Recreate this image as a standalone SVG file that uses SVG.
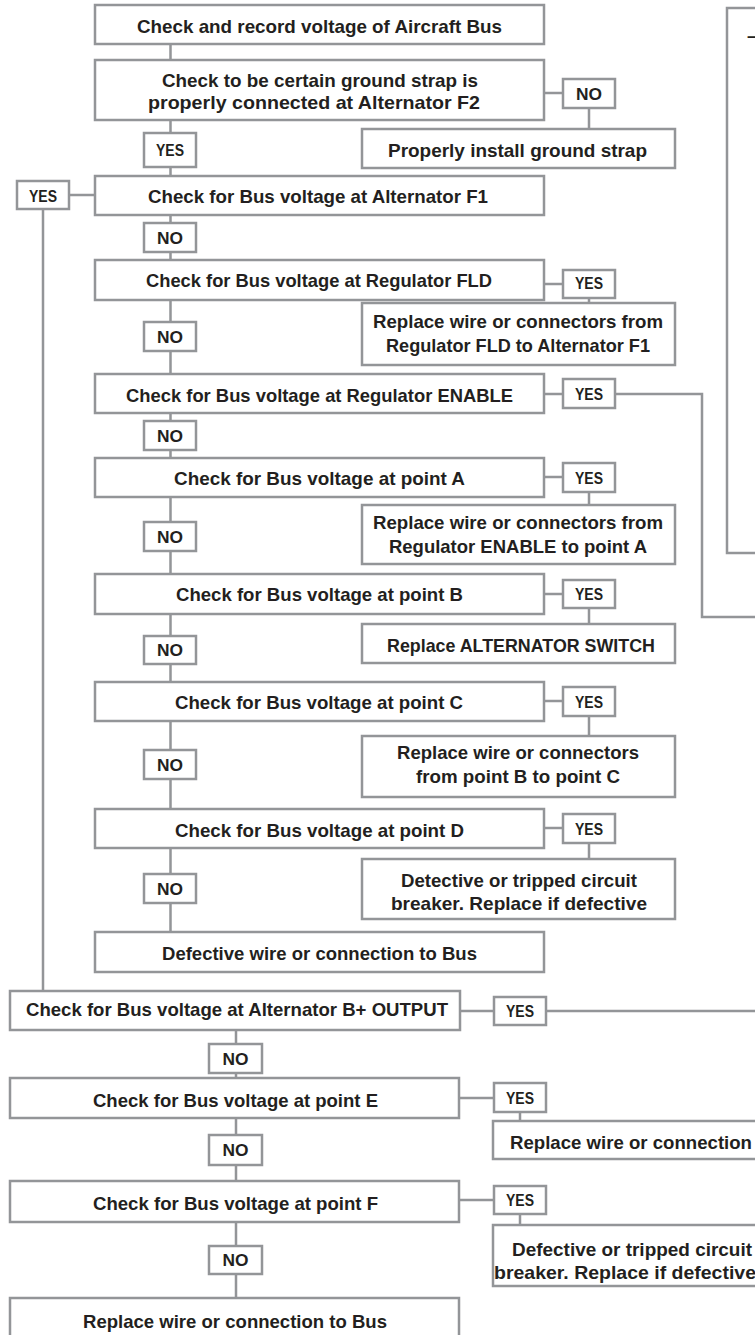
<svg xmlns="http://www.w3.org/2000/svg" width="755" height="1335" viewBox="0 0 755 1335">
<style>
.b{fill:#fff;stroke:#939598;stroke-width:2.5}
.c{fill:none;stroke:#939598;stroke-width:2.5}
text{font-family:"Liberation Sans",Arial,sans-serif;font-weight:bold;fill:#231f20}
.t{font-size:18.5px;text-anchor:middle}
.s{font-size:18.5px}
.l{font-size:17px;text-anchor:middle}
</style>
<rect width="755" height="1335" fill="#fff"/>
<g id="connectors">
<path class="c" d="M170.5 44V60M170.5 120V176M544 93H563M589 108V129M69 195H95M43 209V991M170.5 215V260M544 284H563M589 298V303M170.5 300V374M544 394H563M615 394H702V617H760M170.5 413V458M544 477H563M589 492V505M170.5 497V574M544 594H563M589 608V624M170.5 614V682M544 701H563M589 716V736M170.5 721V809M544 828H563M589 843V859M170.5 848V932"/>
<path class="c" d="M460 1011H494M546 1011H760M236 1030V1078M460 1098H494M520 1112V1121M236 1118V1181M460 1200H494M520 1214V1225M236 1222V1298"/>
</g>
<g id="panel"><rect class="b" x="727" y="8" width="60" height="545"/><text class="s" x="747" y="42">–</text></g>
<g id="n1"><rect class="b" x="95" y="5" width="449" height="39"/><text class="t" x="319.5" y="33" textLength="365" lengthAdjust="spacingAndGlyphs">Check and record voltage of Aircraft Bus</text></g>
<g id="n2"><rect class="b" x="95" y="60" width="449" height="60"/><text class="t" x="320" y="87" textLength="316" lengthAdjust="spacingAndGlyphs">Check to be certain ground strap is</text><text class="t" x="314" y="109" textLength="332" lengthAdjust="spacingAndGlyphs">properly connected at Alternator F2</text></g>
<g id="l2no"><rect class="b" x="563" y="79" width="52" height="29"/><text class="l" x="589" y="99.5" textLength="26" lengthAdjust="spacingAndGlyphs">NO</text></g>
<g id="n2a"><rect class="b" x="362" y="129" width="313" height="39"/><text class="t" x="517.5" y="157" textLength="259" lengthAdjust="spacingAndGlyphs">Properly install ground strap</text></g>
<g id="l2yes"><rect class="b" x="144" y="133" width="52" height="34"/><text class="l" x="170" y="156" textLength="28" lengthAdjust="spacingAndGlyphs">YES</text></g>
<g id="n3"><rect class="b" x="95" y="176" width="449" height="39"/><text class="t" x="318" y="203" textLength="340" lengthAdjust="spacingAndGlyphs">Check for Bus voltage at Alternator F1</text></g>
<g id="l3yes"><rect class="b" x="17" y="181" width="52" height="28"/><text class="l" x="43" y="201.5" textLength="28" lengthAdjust="spacingAndGlyphs">YES</text></g>
<g id="l3no"><rect class="b" x="144" y="223" width="52" height="29"/><text class="l" x="170" y="244" textLength="26" lengthAdjust="spacingAndGlyphs">NO</text></g>
<g id="n4"><rect class="b" x="95" y="260" width="449" height="40"/><text class="t" x="319" y="287" textLength="346" lengthAdjust="spacingAndGlyphs">Check for Bus voltage at Regulator FLD</text></g>
<g id="l4yes"><rect class="b" x="563" y="270" width="52" height="28"/><text class="l" x="589" y="288.5" textLength="28" lengthAdjust="spacingAndGlyphs">YES</text></g>
<g id="n4a"><rect class="b" x="362" y="303" width="313" height="62"/><text class="t" x="518" y="328" textLength="290" lengthAdjust="spacingAndGlyphs">Replace wire or connectors from</text><text class="t" x="518" y="352" textLength="264" lengthAdjust="spacingAndGlyphs">Regulator FLD to Alternator F1</text></g>
<g id="l4no"><rect class="b" x="144" y="322" width="52" height="29"/><text class="l" x="170" y="342.5" textLength="26" lengthAdjust="spacingAndGlyphs">NO</text></g>
<g id="n5"><rect class="b" x="95" y="374" width="449" height="39"/><text class="t" x="319.5" y="402" textLength="387" lengthAdjust="spacingAndGlyphs">Check for Bus voltage at Regulator ENABLE</text></g>
<g id="l5yes"><rect class="b" x="563" y="379" width="52" height="29"/><text class="l" x="589" y="400" textLength="28" lengthAdjust="spacingAndGlyphs">YES</text></g>
<g id="l5no"><rect class="b" x="144" y="421" width="52" height="29"/><text class="l" x="170" y="441.5" textLength="26" lengthAdjust="spacingAndGlyphs">NO</text></g>
<g id="n6"><rect class="b" x="95" y="458" width="449" height="39"/><text class="t" x="319.5" y="485" textLength="291" lengthAdjust="spacingAndGlyphs">Check for Bus voltage at point A</text></g>
<g id="l6yes"><rect class="b" x="563" y="463" width="52" height="29"/><text class="l" x="589" y="483.5" textLength="28" lengthAdjust="spacingAndGlyphs">YES</text></g>
<g id="n6a"><rect class="b" x="362" y="505" width="313" height="59"/><text class="t" x="518" y="529" textLength="290" lengthAdjust="spacingAndGlyphs">Replace wire or connectors from</text><text class="t" x="518" y="553" textLength="258" lengthAdjust="spacingAndGlyphs">Regulator ENABLE to point A</text></g>
<g id="l6no"><rect class="b" x="144" y="522" width="52" height="29"/><text class="l" x="170" y="542.5" textLength="26" lengthAdjust="spacingAndGlyphs">NO</text></g>
<g id="n7"><rect class="b" x="95" y="574" width="449" height="40"/><text class="t" x="319.5" y="601" textLength="287" lengthAdjust="spacingAndGlyphs">Check for Bus voltage at point B</text></g>
<g id="l7yes"><rect class="b" x="563" y="580" width="52" height="28"/><text class="l" x="589" y="600" textLength="28" lengthAdjust="spacingAndGlyphs">YES</text></g>
<g id="n7a"><rect class="b" x="362" y="624" width="313" height="39"/><text class="t" x="521" y="652" textLength="268" lengthAdjust="spacingAndGlyphs">Replace ALTERNATOR SWITCH</text></g>
<g id="l7no"><rect class="b" x="144" y="636" width="52" height="28"/><text class="l" x="170" y="656" textLength="26" lengthAdjust="spacingAndGlyphs">NO</text></g>
<g id="n8"><rect class="b" x="95" y="682" width="449" height="39"/><text class="t" x="319" y="709" textLength="288" lengthAdjust="spacingAndGlyphs">Check for Bus voltage at point C</text></g>
<g id="l8yes"><rect class="b" x="563" y="687" width="52" height="29"/><text class="l" x="589" y="707.5" textLength="28" lengthAdjust="spacingAndGlyphs">YES</text></g>
<g id="n8a"><rect class="b" x="362" y="736" width="313" height="61"/><text class="t" x="518" y="759" textLength="242" lengthAdjust="spacingAndGlyphs">Replace wire or connectors</text><text class="t" x="518" y="783" textLength="204" lengthAdjust="spacingAndGlyphs">from point B to point C</text></g>
<g id="l8no"><rect class="b" x="144" y="750" width="52" height="29"/><text class="l" x="170" y="770.5" textLength="26" lengthAdjust="spacingAndGlyphs">NO</text></g>
<g id="n9"><rect class="b" x="95" y="809" width="449" height="39"/><text class="t" x="319.5" y="837" textLength="289" lengthAdjust="spacingAndGlyphs">Check for Bus voltage at point D</text></g>
<g id="l9yes"><rect class="b" x="563" y="814" width="52" height="29"/><text class="l" x="589" y="834.5" textLength="28" lengthAdjust="spacingAndGlyphs">YES</text></g>
<g id="n9a"><rect class="b" x="362" y="859" width="313" height="60"/><text class="t" x="519" y="887" textLength="236" lengthAdjust="spacingAndGlyphs">Detective or tripped circuit</text><text class="t" x="519" y="910" textLength="256" lengthAdjust="spacingAndGlyphs">breaker. Replace if defective</text></g>
<g id="l9no"><rect class="b" x="144" y="874" width="52" height="29"/><text class="l" x="170" y="894.5" textLength="26" lengthAdjust="spacingAndGlyphs">NO</text></g>
<g id="n10"><rect class="b" x="95" y="932" width="449" height="40"/><text class="t" x="319.5" y="960" textLength="315" lengthAdjust="spacingAndGlyphs">Defective wire or connection to Bus</text></g>
<g id="n11"><rect class="b" x="10" y="991" width="450" height="39"/><text class="t" x="237" y="1016" textLength="422" lengthAdjust="spacingAndGlyphs">Check for Bus voltage at Alternator B+ OUTPUT</text></g>
<g id="l11yes"><rect class="b" x="494" y="997" width="52" height="28"/><text class="l" x="520" y="1017" textLength="28" lengthAdjust="spacingAndGlyphs">YES</text></g>
<g id="l11no"><rect class="b" x="209" y="1044" width="53" height="29"/><text class="l" x="235.5" y="1064.5" textLength="26" lengthAdjust="spacingAndGlyphs">NO</text></g>
<g id="n12"><rect class="b" x="10" y="1078" width="449" height="40"/><text class="t" x="235.5" y="1107" textLength="285" lengthAdjust="spacingAndGlyphs">Check for Bus voltage at point E</text></g>
<g id="l12yes"><rect class="b" x="494" y="1083" width="52" height="29"/><text class="l" x="520" y="1103.5" textLength="28" lengthAdjust="spacingAndGlyphs">YES</text></g>
<g id="n12a"><rect class="b" x="493" y="1121" width="300" height="38"/><text class="s" x="510" y="1149" textLength="242" lengthAdjust="spacingAndGlyphs">Replace wire or connection</text></g>
<g id="l12no"><rect class="b" x="209" y="1135" width="53" height="30"/><text class="l" x="235.5" y="1156" textLength="26" lengthAdjust="spacingAndGlyphs">NO</text></g>
<g id="n13"><rect class="b" x="10" y="1181" width="449" height="41"/><text class="t" x="235.5" y="1210" textLength="285" lengthAdjust="spacingAndGlyphs">Check for Bus voltage at point F</text></g>
<g id="l13yes"><rect class="b" x="494" y="1186" width="52" height="28"/><text class="l" x="520" y="1206" textLength="28" lengthAdjust="spacingAndGlyphs">YES</text></g>
<g id="n13a"><rect class="b" x="493" y="1225" width="300" height="61"/><text class="s" x="512" y="1256" textLength="240" lengthAdjust="spacingAndGlyphs">Defective or tripped circuit</text><text class="s" x="494" y="1279" textLength="262" lengthAdjust="spacingAndGlyphs">breaker. Replace if defective</text></g>
<g id="l13no"><rect class="b" x="209" y="1246" width="53" height="28"/><text class="l" x="235.5" y="1266" textLength="26" lengthAdjust="spacingAndGlyphs">NO</text></g>
<g id="n14"><rect class="b" x="10" y="1298" width="449" height="60"/><text class="t" x="235" y="1328" textLength="304" lengthAdjust="spacingAndGlyphs">Replace wire or connection to Bus</text></g>
</svg>
